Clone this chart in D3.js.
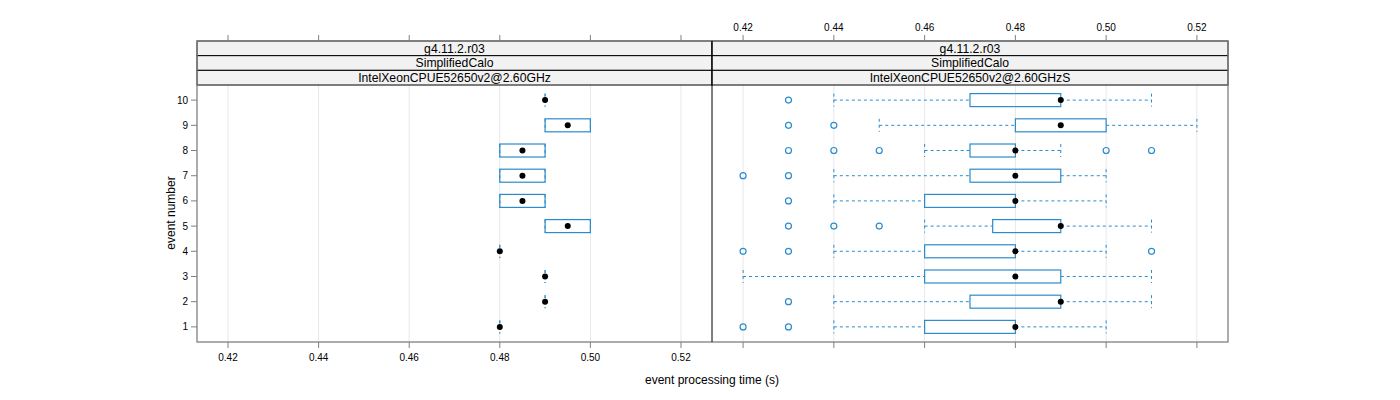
<!DOCTYPE html>
<html><head><meta charset="utf-8">
<script src="https://cdn.jsdelivr.net/npm/d3@7"></script>
<style>body{margin:0;background:#fff}svg{display:block}text{font-family:"Liberation Sans",Arial,sans-serif}</style>
</head><body><svg id="c" width="1400" height="400"></svg>
<script>
const events = [1,2,3,4,5,6,7,8,9,10];
const xTicks = [0.42,0.44,0.46,0.48,0.50,0.52];
const stripLabels = [
  ["g4.11.2.r03","SimplifiedCalo","IntelXeonCPUE52650v2@2.60GHz"],
  ["g4.11.2.r03","SimplifiedCalo","IntelXeonCPUE52650v2@2.60GHzS"]
];
// per event: [whiskerLow, q1, median, q3, whiskerHigh]
const statsA = [
  [0.48,0.48,0.48,0.48,0.48],
  [0.49,0.49,0.49,0.49,0.49],
  [0.49,0.49,0.49,0.49,0.49],
  [0.48,0.48,0.48,0.48,0.48],
  [0.49,0.49,0.495,0.50,0.50],
  [0.48,0.48,0.485,0.49,0.49],
  [0.48,0.48,0.485,0.49,0.49],
  [0.48,0.48,0.485,0.49,0.49],
  [0.49,0.49,0.495,0.50,0.50],
  [0.49,0.49,0.49,0.49,0.49]
];
const outA = [[],[],[],[],[],[],[],[],[],[]];
const statsB = [
  [0.44,0.46,0.48,0.48,0.50],
  [0.44,0.47,0.49,0.49,0.51],
  [0.42,0.46,0.48,0.49,0.51],
  [0.44,0.46,0.48,0.48,0.50],
  [0.46,0.475,0.49,0.49,0.51],
  [0.44,0.46,0.48,0.48,0.50],
  [0.44,0.47,0.48,0.49,0.50],
  [0.46,0.47,0.48,0.48,0.49],
  [0.45,0.48,0.49,0.50,0.52],
  [0.44,0.47,0.49,0.49,0.51]
];
const outB = [
  [0.42,0.43],
  [0.43],
  [],
  [0.42,0.43,0.51],
  [0.43,0.44,0.45],
  [0.43],
  [0.42,0.43],
  [0.43,0.44,0.45,0.50,0.51],
  [0.43,0.44],
  [0.43]
];

const svg = d3.select("#c");
const col = "#2b8ccb";
const topY = 41, stripH = 14.67, bodyTop = 85, bodyBot = 342;
const panels = [
  {x0:197, x1:712, stats:statsA, outs:outA, strips:stripLabels[0]},
  {x0:712, x1:1228, stats:statsB, outs:outB, strips:stripLabels[1]}
];
const y = d3.scaleLinear().domain([0.4,10.6]).range([bodyBot, bodyTop]);
const boxH = 13;

panels.forEach((p, pi) => {
  const x = d3.scaleLinear().domain([0.41315,0.52685]).range([p.x0, p.x1]);
  const g = svg.append("g");
  g.selectAll("line.grid").data(xTicks).join("line")
    .attr("x1", d=>x(d)).attr("x2", d=>x(d)).attr("y1", bodyTop).attr("y2", bodyBot)
    .attr("stroke", "#e8e8e8").attr("stroke-width", 1);
  p.strips.forEach((s, i) => {
    const sy = topY + i*stripH;
    g.append("rect").attr("x", p.x0).attr("y", sy).attr("width", p.x1-p.x0).attr("height", stripH)
      .attr("fill", "#f2f2f2").attr("stroke", "#000").attr("stroke-width", 1);
    g.append("text").attr("x", (p.x0+p.x1)/2).attr("y", sy + stripH/2 + 4.2)
      .attr("text-anchor", "middle").attr("font-size", 12.2).attr("fill", "#000").text(s);
  });
  p.stats.forEach((s, i) => {
    const yc = y(events[i]);
    const wg = g.append("g").attr("stroke", col).attr("stroke-width", 1).attr("stroke-dasharray", "3,3");
    if (s[0] < s[1]) wg.append("line").attr("x1", x(s[0])).attr("x2", x(s[1])).attr("y1", yc).attr("y2", yc);
    if (s[4] > s[3]) wg.append("line").attr("x1", x(s[3])).attr("x2", x(s[4])).attr("y1", yc).attr("y2", yc);
    wg.append("line").attr("x1", x(s[0])).attr("x2", x(s[0])).attr("y1", yc-boxH/2).attr("y2", yc+boxH/2);
    wg.append("line").attr("x1", x(s[4])).attr("x2", x(s[4])).attr("y1", yc-boxH/2).attr("y2", yc+boxH/2);
    g.append("rect").attr("x", x(s[1])).attr("y", yc-boxH/2).attr("width", Math.max(0, x(s[3])-x(s[1])))
      .attr("height", boxH).attr("fill", "none").attr("stroke", col).attr("stroke-width", 1.2);
    p.outs[i].forEach(o => {
      g.append("circle").attr("cx", x(o)).attr("cy", yc).attr("r", 3)
        .attr("fill", "none").attr("stroke", col).attr("stroke-width", 1.2);
    });
    g.append("circle").attr("cx", x(s[2])).attr("cy", yc).attr("r", 3).attr("fill", "#000");
  });
  g.selectAll("line.tt").data(xTicks).join("line")
    .attr("x1", d=>x(d)).attr("x2", d=>x(d)).attr("y1", topY).attr("y2", topY-6)
    .attr("stroke", "#808080");
  g.selectAll("line.bt").data(xTicks).join("line")
    .attr("x1", d=>x(d)).attr("x2", d=>x(d)).attr("y1", bodyBot).attr("y2", bodyBot+6)
    .attr("stroke", "#808080");
  const fmt = d3.format(".2f");
  if (pi === 1) {
    g.selectAll("text.tl").data(xTicks).join("text")
      .attr("x", d=>x(d)).attr("y", 31).attr("text-anchor", "middle")
      .attr("font-size", 10).text(d=>fmt(d));
  } else {
    g.selectAll("text.bl").data(xTicks).join("text")
      .attr("x", d=>x(d)).attr("y", 361).attr("text-anchor", "middle")
      .attr("font-size", 10).text(d=>fmt(d));
  }
});

svg.selectAll("line.yt").data(events).join("line")
  .attr("x1", 191).attr("x2", 197).attr("y1", d=>y(d)).attr("y2", d=>y(d)).attr("stroke", "#808080");
svg.selectAll("text.yl").data(events).join("text")
  .attr("x", 188).attr("y", d=>y(d)+3.5).attr("text-anchor", "end").attr("font-size", 10).text(d=>d);

svg.append("rect").attr("x", 197).attr("y", topY).attr("width", 1228-197).attr("height", bodyBot-topY)
  .attr("fill", "none").attr("stroke", "#808080").attr("stroke-width", 1.3);
svg.append("line").attr("x1", 712).attr("x2", 712).attr("y1", topY).attr("y2", bodyBot)
  .attr("stroke", "#000").attr("stroke-width", 1);

svg.append("text").attr("x", 712).attr("y", 384).attr("text-anchor", "middle").attr("font-size", 12)
  .text("event processing time (s)");
svg.append("text").attr("transform", "translate(175,213) rotate(-90)").attr("text-anchor", "middle")
  .attr("font-size", 12).text("event number");
</script></body></html>
